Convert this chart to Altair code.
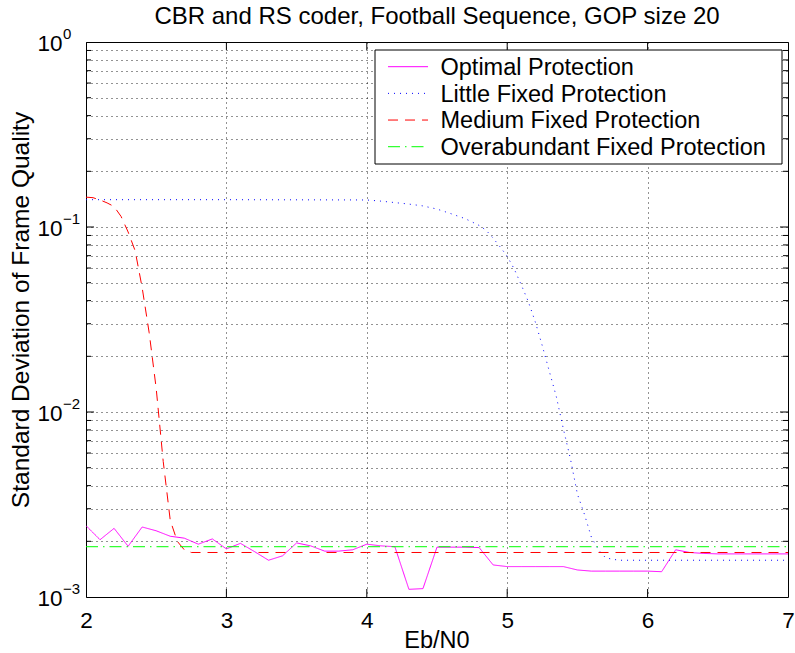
import altair as alt
import pandas as pd

FONT = "Liberation Sans"

title_text = "CBR and RS coder, Football Sequence, GOP size 20"
x_title = "Eb/N0"
y_title = "Standard Deviation of Frame Quality"

series_names = ["Optimal Protection", "Little Fixed Protection",
                "Medium Fixed Protection", "Overabundant Fixed Protection"]
series_colors = ["#ff00ff", "#0000ff", "#ff0000", "#00ff00"]
series_dashes = [[1, 0], [1, 5], [10, 7], [12, 5, 1.5, 5]]

opt_x = [2.0, 2.1, 2.2, 2.3, 2.4, 2.5, 2.6, 2.7, 2.8, 2.9,
         3.0, 3.1, 3.2, 3.3, 3.4, 3.5, 3.6, 3.7, 3.8, 3.9,
         4.0, 4.1, 4.2, 4.3, 4.4, 4.5, 4.6, 4.7, 4.8, 4.9,
         5.0, 5.1, 5.2, 5.3, 5.4, 5.5, 5.6, 5.7, 5.8, 5.9,
         6.0, 6.1, 6.2, 6.3, 6.4, 6.5, 6.6, 6.7, 6.8, 6.9, 7.0]
opt_y = [0.00243, 0.00204, 0.00235, 0.00188, 0.00239, 0.00228, 0.00213, 0.00208, 0.00193, 0.00206,
         0.00182, 0.00195, 0.00176, 0.00158, 0.00167, 0.00196, 0.00189, 0.00177, 0.00177, 0.00180,
         0.00193, 0.00189, 0.00187, 0.00110, 0.00111, 0.00186, 0.00186, 0.00186, 0.00185, 0.00149,
         0.00146, 0.00146, 0.00146, 0.00146, 0.00146, 0.00140, 0.00138, 0.00138, 0.00138, 0.00138,
         0.00138, 0.00137, 0.00180, 0.00174, 0.00172, 0.00171, 0.00171, 0.00171, 0.00171, 0.00171, 0.00171]

little_x = [2.0, 3.0, 4.0, 4.1, 4.2, 4.3, 4.4, 4.5, 4.6, 4.7, 4.8, 4.85, 4.9, 4.95, 5.0,
            5.05, 5.1, 5.15, 5.2, 5.25, 5.3, 5.35, 5.4, 5.45, 5.5, 5.55, 5.6, 5.65, 5.7,
            5.75, 5.8, 6.0, 6.5, 7.0]
little_y = [0.1405, 0.1405, 0.1400, 0.1380, 0.1355, 0.1330, 0.1300, 0.1250, 0.1180, 0.1110,
            0.1020, 0.0960, 0.0870, 0.0780, 0.0695,
            0.0593, 0.0487, 0.0396, 0.0307, 0.0228, 0.0166, 0.0121, 0.0081, 0.0056, 0.0036,
            0.0028, 0.0021, 0.0018, 0.00163, 0.00160, 0.00158, 0.00158, 0.00158, 0.00158]

medium_x = [2.0, 2.05, 2.1, 2.15, 2.2, 2.25, 2.3, 2.35, 2.4, 2.45, 2.5, 2.55, 2.6, 2.65,
            2.7, 2.75, 3.0, 4.0, 5.0, 6.0, 7.0]
medium_y = [0.145, 0.144, 0.140, 0.135, 0.129, 0.114, 0.094, 0.0744, 0.047, 0.0268, 0.0134,
            0.0054, 0.0026, 0.0020, 0.0018, 0.00174, 0.00174, 0.00174, 0.00174, 0.00174, 0.00174]

over_x = [2.0, 7.0]
over_y = [0.00187, 0.00187]

x_ticks = [2, 3, 4, 5, 6, 7]
y_major = [1.0, 0.1, 0.01, 0.001]
y_exponents = ["0", "\u22121", "\u22122", "\u22123"]
y_minor = [0.002, 0.003, 0.004, 0.005, 0.006, 0.007, 0.008, 0.009,
           0.02, 0.03, 0.04, 0.05, 0.06, 0.07, 0.08, 0.09,
           0.2, 0.3, 0.4, 0.5, 0.6, 0.7, 0.8, 0.9]

W, H = 702, 555

rows = []
for name, xs_, ys_ in zip(series_names,
                          [opt_x, little_x, medium_x, over_x],
                          [opt_y, little_y, medium_y, over_y]):
    for a, b in zip(xs_, ys_):
        rows.append({"series": name, "x": a, "y": b})
df = pd.DataFrame(rows)

xs = alt.Scale(domain=[2, 7], nice=False, zero=False)
ys = alt.Scale(type="log", domain=[0.001, 1], nice=False)
cscale = alt.Scale(domain=series_names, range=series_colors)
dscale = alt.Scale(domain=series_names, range=series_dashes)

grid_kw = dict(grid=True, gridColor="black", gridDash=[1, 4], gridOpacity=0.85, gridWidth=1,
               ticks=False, tickSize=0, domain=False, title=None)

x_axis = alt.Axis(values=x_ticks, labels=True, labelFontSize=22.5, labelFont=FONT,
                  labelColor="black", labelPadding=12, labelFlush=False, labelOverlap=False,
                  **grid_kw)
y_axis = alt.Axis(values=y_minor + y_major, labels=False, **grid_kw)

lines = alt.Chart(df).mark_line(strokeWidth=1, clip=True).encode(
    x=alt.X("x:Q", scale=xs, axis=x_axis),
    y=alt.Y("y:Q", scale=ys, axis=y_axis),
    color=alt.Color("series:N", scale=cscale, legend=None),
    strokeDash=alt.StrokeDash("series:N", scale=dscale, legend=None),
)

# inward tick marks (box on all sides)
xt = pd.DataFrame({"x": x_ticks[1:-1]})
ymaj = pd.DataFrame({"y": y_major[1:-1]})
ymin = pd.DataFrame({"y": y_minor})
tick_layers = [
    alt.Chart(xt).mark_rule(color="black", strokeWidth=1).encode(
        x=alt.X("x:Q", scale=xs, axis=x_axis), y=alt.value(H), y2=alt.value(H - 8)),
    alt.Chart(xt).mark_rule(color="black", strokeWidth=1).encode(
        x=alt.X("x:Q", scale=xs, axis=x_axis), y=alt.value(0), y2=alt.value(8)),
    alt.Chart(ymaj).mark_rule(color="black", strokeWidth=1).encode(
        y=alt.Y("y:Q", scale=ys, axis=y_axis), x=alt.value(0), x2=alt.value(8)),
    alt.Chart(ymaj).mark_rule(color="black", strokeWidth=1).encode(
        y=alt.Y("y:Q", scale=ys, axis=y_axis), x=alt.value(W), x2=alt.value(W - 8)),
    alt.Chart(ymin).mark_rule(color="black", strokeWidth=1).encode(
        y=alt.Y("y:Q", scale=ys, axis=y_axis), x=alt.value(0), x2=alt.value(5)),
    alt.Chart(ymin).mark_rule(color="black", strokeWidth=1).encode(
        y=alt.Y("y:Q", scale=ys, axis=y_axis), x=alt.value(W), x2=alt.value(W - 5)),
]

# y tick labels "10" with superscript exponent
ylab_df = pd.DataFrame({"y": y_major, "base": ["10"] * len(y_major), "exp": y_exponents})
ylab_base = alt.Chart(ylab_df).mark_text(
    align="right", baseline="alphabetic", dy=8.5, fontSize=22.5, font=FONT, color="black"
).encode(x=alt.value(-23.5), y=alt.Y("y:Q", scale=ys, axis=y_axis), text="base:N")
ylab_exp = alt.Chart(ylab_df).mark_text(
    align="left", baseline="alphabetic", dy=-3.5, fontSize=15, font=FONT, color="black"
).encode(x=alt.value(-23), y=alt.Y("y:Q", scale=ys, axis=y_axis), text="exp:N")

# titles
one = pd.DataFrame({"t": [title_text], "xt": [x_title], "yt": [y_title]})
title_mark = alt.Chart(one).mark_text(
    align="center", baseline="alphabetic", fontSize=24, font=FONT, color="black"
).encode(x=alt.value(W / 2), y=alt.value(-18), text="t:N")
xtitle_mark = alt.Chart(one).mark_text(
    align="center", baseline="alphabetic", fontSize=23.5, font=FONT, color="black"
).encode(x=alt.value(W / 2), y=alt.value(606), text="xt:N")
ytitle_mark = alt.Chart(one).mark_text(
    align="center", baseline="middle", angle=270, fontSize=24.5, font=FONT, color="black"
).encode(x=alt.value(-64), y=alt.value(268), text="yt:N")

# legend (boxed, upper right, like the original)
legend_box = alt.Chart(one).mark_rect(fill="white", stroke="black", strokeWidth=1).encode(
    x=alt.value(289), x2=alt.value(696), y=alt.value(8), y2=alt.value(122))
legend_layers = [legend_box]
for i, (name, col, dash) in enumerate(zip(series_names, series_colors, series_dashes)):
    ly = 24.7 + i * 26.67
    ldf = pd.DataFrame({"name": [name]})
    legend_layers.append(
        alt.Chart(ldf).mark_rule(color=col, strokeDash=dash, strokeWidth=1).encode(
            x=alt.value(302), x2=alt.value(342), y=alt.value(ly)))
    legend_layers.append(
        alt.Chart(ldf).mark_text(align="left", baseline="alphabetic", fontSize=23.5,
                                 font=FONT, color="black").encode(
            x=alt.value(354.5), y=alt.value(ly + 8.3), text="name:N"))

chart = alt.layer(
    lines, *tick_layers, ylab_base, ylab_exp, title_mark, xtitle_mark, ytitle_mark,
    *legend_layers
).properties(
    width=W, height=H,
    autosize=alt.AutoSizeParams(type="none"),
    padding={"left": 86, "top": 42, "right": 7, "bottom": 56},
    background="white",
).configure_view(stroke="black", strokeWidth=1)

chart.save("out.html", embed_options={"renderer": "svg", "actions": False})
